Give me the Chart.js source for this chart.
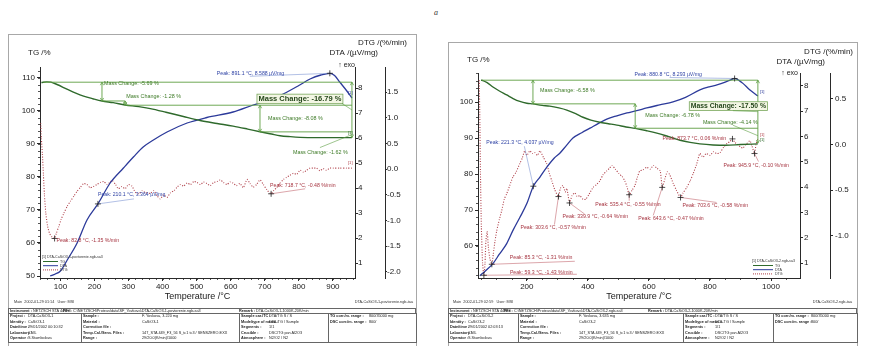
<!DOCTYPE html>
<html><head><meta charset="utf-8">
<script src="https://cdn.jsdelivr.net/npm/chart.js@4.4.1/dist/chart.umd.min.js"></script>
<style>
html,body{margin:0;padding:0;background:#fff}
body{width:870px;height:346px;position:relative;overflow:hidden;font-family:"Liberation Sans",Arial,sans-serif;color:#222}
.frame{position:absolute;border:1px solid #a8a8a8;box-sizing:border-box}
canvas{position:absolute}
.note{position:absolute;font-size:3.8px;line-height:4px;white-space:nowrap;color:#333}
.cell{position:absolute;border:0.8px solid #666;box-sizing:border-box;font-size:3.8px;line-height:5.5px;white-space:nowrap;overflow:hidden;color:#222}
.lab{position:absolute;font-weight:bold}
.val{position:absolute}
.letter{position:absolute;left:434px;top:8px;font:italic 8px "Liberation Serif",serif;color:#333}
</style></head><body>
<div class="letter">a</div>
<div class="frame" style="left:8px;top:34px;width:409px;height:320px"></div>
<div class="frame" style="left:448px;top:42px;width:410px;height:312px"></div>
<canvas id="c1" width="408" height="268" style="left:8px;top:34px"></canvas>
<canvas id="c2" width="409" height="260" style="left:448px;top:42px"></canvas>
<div class="note" style="left:14px;top:299.5px">Main&nbsp;&nbsp;2002-01-29 01:14&nbsp;&nbsp;&nbsp;User: MSI</div>
<div class="note" style="right:457px;top:299.5px">DTA-CaSiO3-1-povtorenie.ngb-taa</div>
<div class="note" style="left:453px;top:299.5px">Main&nbsp;&nbsp;2002-01-29 02:59&nbsp;&nbsp;&nbsp;User: MSI</div>
<div class="note" style="right:18px;top:299.5px">DTA-CaSiO3-2.ngb-taa</div>
<script>
const FONT = '"Liberation Sans", Arial, sans-serif';
const AXIS = '#2a2a2a', TXT = '#1a1a1a';
const C_TG = '#2f6a2c', C_DTA = '#2c3a9a', C_DTG = '#b0404a';
const C_LVL = '#5d9e42', C_MTXT = '#3d7a26', C_PEAKR = '#a63440', C_PEAKB = '#2f43a5';

// ================= Panel 1 (CaSiO3-1) =================
const tempTicks1 = [100, 200, 300, 400, 500, 600, 700, 800, 900];
const tgTicks1 = [50, 60, 70, 80, 90, 100, 110];
const dtaTicks1 = [1, 2, 3, 4, 5, 6, 7, 8];
const dtgTicks1 = [-2.0, -1.5, -1.0, -0.5, 0.0, 0.5, 1.0, 1.5];
// [temperature °C, TG %]
const tg1 = [[44,108.6],[60,108.8],[72,108.7],[90,108.0],[119,106.6],[145,105.4],[168,104.5],[195,103.7],[222,103.0],[255,102.5],[290,101.8],[330,101.3],[364,100.7],[410,99.6],[461,98.3],[510,97.1],[560,96.2],[607,95.4],[650,94.5],[686,93.7],[720,93.0],[745,92.5],[775,92.2],[804,92.0],[850,91.9],[900,91.9],[956,91.9]];
// [temperature °C, DTA µV/mg]
const dta1 = [[70,0.48],[85,0.56],[100,0.68],[120,1.12],[149,1.8],[178,2.72],[210.1,3.364],[246,4.2],[285,4.8],[315,5.25],[343,5.64],[373,5.92],[413,6.24],[472,6.6],[530,6.82],[607,7.04],[666,7.32],[720,7.55],[754,7.76],[800,8.1],[833,8.36],[865,8.52],[891.1,8.588],[905,8.5],[920,8.24],[940,7.9],[956,7.6]];
// [temperature °C, DTG %/min]
const dtg1 = [[42,0.9],[44,0.6],[47,0.3],[50,-0.1],[53,-0.5],[57,-0.85],[62,-1.1],[68,-1.25],[75,-1.32],[82.8,-1.35],[88,-1.25],[95,-1.12],[102,-0.98],[110,-0.86],[120,-0.72],[130,-0.62],[140,-0.52],[149,-0.43],[158,-0.36],[168,-0.28],[178,-0.3],[187,-0.36],[197,-0.34],[207,-0.3],[217,-0.26],[227,-0.24],[237,-0.3],[245,-0.26],[252,-0.22],[262,-0.3],[270,-0.38],[280,-0.34],[290,-0.38],[300,-0.3],[310,-0.33],[320,-0.45],[330,-0.48],[340,-0.42],[350,-0.46],[364,-0.47],[374,-0.42],[384,-0.52],[393,-0.58],[403,-0.5],[413,-0.55],[423,-0.46],[433,-0.42],[443,-0.35],[452,-0.3],[462,-0.33],[472,-0.27],[482,-0.3],[492,-0.24],[501,-0.26],[511,-0.3],[520,-0.25],[530,-0.28],[540,-0.32],[550,-0.26],[560,-0.24],[569,-0.21],[579,-0.26],[589,-0.3],[598,-0.25],[607,-0.27],[617,-0.32],[627,-0.28],[637,-0.36],[648,-0.2],[657,-0.28],[666,-0.35],[676,-0.3],[686,-0.21],[696,-0.3],[706,-0.4],[718.7,-0.48],[726,-0.42],[735,-0.36],[745,-0.27],[755,-0.2],[764,-0.16],[774,-0.12],[784,-0.08],[794,-0.1],[804,-0.02],[814,-0.06],[823,-0.02],[833,0.02],[843,0.02],[852,0.02],[862,-0.03],[872,0.01],[881,-0.02],[891,0.02],[901,0.02],[920,0.02],[940,0.02],[956,0.02]];
const massStart1 = 108.7;
const massTemp1 = [222, 290, 686, 956];
const massChange1 = [-5.69, -1.28, -8.08, -1.62];
const massLineEnd1 = [290, 956, 956, 956];
const massTotal1 = -16.79;
const dtaPeakT1 = [210.1, 891.1], dtaPeakV1 = [3.364, 8.588];
const dtgPeakT1 = [82.8, 718.7], dtgPeakV1 = [-1.35, -0.48];

// ================= Panel 2 (CaSiO3-2) =================
const tempTicks2 = [200, 400, 600, 800, 1000];
const tgTicks2 = [60, 70, 80, 90, 100];
const dtaTicks2 = [1, 2, 3, 4, 5, 6, 7, 8];
const dtgTicks2 = [-1.0, -0.5, 0.0, 0.5];
const tg2 = [[50,106.1],[56,106.0],[70,105.4],[89,104.2],[110,103.1],[134,102.0],[155,101.0],[177,100.2],[200,99.7],[220,99.5],[250,99.1],[275,98.9],[305,98.4],[331,97.8],[360,96.8],[384,95.8],[410,95.0],[439,94.4],[467,94.0],[495,93.6],[525,93.1],[555,92.7],[590,92.1],[626,91.4],[665,90.4],[702,89.4],[735,88.8],[767,88.4],[810,88.1],[852,88.0],[900,88.2],[957,88.4]];
const dta2 = [[46,0.5],[65,0.7],[89,0.98],[110,1.35],[134,1.77],[155,2.3],[177,2.8],[200,3.35],[221.3,4.037],[243,4.4],[265,4.78],[290,5.15],[308,5.34],[330,5.65],[351,5.94],[380,6.15],[407,6.33],[435,6.52],[462,6.69],[495,6.82],[528,6.93],[560,7.02],[593,7.13],[635,7.25],[679,7.37],[720,7.55],[767,7.84],[800,7.97],[823,8.04],[850,8.15],[868,8.24],[880.8,8.293],[895,8.22],[908,8.1],[930,7.85],[957,7.6]];
const dtg2 = [[44,0.7],[46,0.3],[48,-0.3],[51,-0.9],[55,-1.3],[59.3,-1.43],[63,-1.3],[66,-1.05],[70,-0.95],[74,-1.12],[79,-1.25],[85.3,-1.31],[90,-1.2],[96,-1.05],[101,-0.95],[110,-0.82],[118,-0.72],[126,-0.6],[134,-0.54],[144,-0.45],[154,-0.36],[165,-0.3],[177,-0.21],[185,-0.15],[193,-0.07],[200,-0.12],[210,-0.07],[218,-0.1],[226,-0.09],[235,-0.12],[243,-0.07],[254,-0.14],[265,-0.21],[274,-0.32],[282,-0.4],[292,-0.5],[303.6,-0.57],[310,-0.48],[318,-0.45],[326,-0.52],[331,-0.48],[339.9,-0.64],[348,-0.56],[357,-0.53],[365,-0.57],[374,-0.56],[384,-0.6],[393,-0.6],[403,-0.55],[417,-0.47],[428,-0.44],[439,-0.4],[450,-0.33],[462,-0.29],[471,-0.26],[479,-0.23],[490,-0.27],[502,-0.32],[512,-0.35],[521,-0.4],[528,-0.46],[535.4,-0.55],[545,-0.5],[554,-0.45],[562,-0.36],[570,-0.29],[580,-0.28],[593,-0.25],[604,-0.27],[615,-0.23],[626,-0.26],[637,-0.29],[643.6,-0.47],[652,-0.38],[660,-0.3],[668,-0.33],[680,-0.43],[690,-0.5],[703.6,-0.58],[712,-0.53],[724,-0.47],[735,-0.4],[745,-0.32],[756,-0.22],[767,-0.1],[777,-0.14],[788,-0.1],[800,-0.12],[812,-0.08],[822,-0.1],[833,-0.09],[845,-0.03],[856,0.01],[865,0.03],[873.7,0.06],[882,0.02],[892,0.0],[900,-0.03],[908,-0.04],[918,0.0],[931,0.04],[938,-0.02],[945.9,-0.1],[951,0.0],[957,0.06]];
const massStart2 = 106.1;
const massTemp2 = [220, 555, 957];
const massChange2 = [-6.58, -6.78, -4.14];
const massLineEnd2 = [555, 957, 957];
const massTotal2 = -17.50;
const dtaPeakT2 = [221.3, 880.8], dtaPeakV2 = [4.037, 8.293];
const dtgPeakT2 = [59.3, 85.3, 303.6, 339.9, 535.4, 643.6, 703.6, 873.7, 945.9];
const dtgPeakV2 = [-1.43, -1.31, -0.57, -0.64, -0.55, -0.47, -0.58, 0.06, -0.10];

// ================= Info tables =================
const info1 = {
  instrument: 'NETZSCH STA 449F3', file: 'C:\\NETZSCH\\Proteus\\data\\SF_Yovkova\\DTA-CaSiO3-1-povtorenie.ngb-sa3', remark: 'DTA-CaSiO3-1-1000K-20K/min',
  cols: [
    [['Project :','DTA-CaSiO3-1'],['Identity :','CaSiO3-1'],['Date/time :','29/01/2002 00:10:32'],['Laboratory :','CNIL'],['Operator :','S.Stambolova']],
    [['Sample :','F. Yovkova, 3.220 mg'],['Material :','CaSiO3-1'],['Correction file :',''],['Temp.Cal./Sens. Files :','147_STA 449_F3_56 S_tc1 tc3 / SENSZERO.EXX'],['Range :','29/20.0(K/min)/1000']],
    [['Sample car./TC :','DTA/TG S / S'],['Mode/type of meas. :','DTA-TG / Sample'],['Segments :','1/1'],['Crucible :','DSC/TG pan Al2O3'],['Atmosphere :','N2/O2 / N2']],
    [['TG corr./m. range :','800/35000 mg'],['DSC corr./m. range :','800/']]
  ]
};
const info2 = {
  instrument: 'NETZSCH STA 449F3', file: 'C:\\NETZSCH\\Proteus\\data\\SF_Yovkova\\DTA-CaSiO3-2.ngb-sa3', remark: 'DTA-CaSiO3-2-1000K-20K/min',
  cols: [
    [['Project :','DTA-CaSiO3-2'],['Identity :','CaSiO3-2'],['Date/time :','29/01/2002 02:03:13'],['Laboratory :','CNIL'],['Operator :','S.Stambolova']],
    [['Sample :','F. Yovkova, 3.635 mg'],['Material :','CaSiO3-2'],['Correction file :',''],['Temp.Cal./Sens. Files :','147_STA 449_F3_56 S_tc1 tc3 / SENSZERO.EXX'],['Range :','29/20.0(K/min)/1000']],
    [['Sample car./TC :','DTA/TG S / S'],['Mode/type of meas. :','DTA-TG / Sample'],['Segments :','1/1'],['Crucible :','DSC/TG pan Al2O3'],['Atmosphere :','N2/O2 / N2']],
    [['TG corr./m. range :','800/35000 mg'],['DSC corr./m. range :','800/']]
  ]
};

// ---------- layout (positions / sizes only) ----------
const L1 = {
  padTop: 33, xAxisH: 24, wTG: 32, wDTA: 30, wDTG: 31,
  xMin: 40, xMax: 965, tgMin: 49.4, tgMax: 113.3, dtaMin: 0.4, dtaMax: 8.84, dtgMin: -2.12, dtgMax: 1.99,
  dtaPad: 0, dtgPad: 0, dtgTick: 2, xMinor: 20, tgMinor: 2,
  hdrTG: [-12, -14], hdrDTA: [23, -14], hdrDTG: [52, -24], exo: [0, -2],
  dtaPeak: [[0, -9, 36, -5], [-113, 0, -80, 3]],
  dtgPeak: [[2, 2, null, null], [-1, -8, 34, -5]],
  massBase: 50,
  massLbl: [[2, -8], [1, -7], [8, 0], [-59, 18]],
  massLeader: {3: [27, -5]},
  total: {dx: -52, dy: -11, size: 7.5, leader: [42, 4.5]},
  legend: {x: 2, y: -21, len: 15, name: '[1] DTA-CaSiO3-1-povtorenie.ngb-sa3'},
  tag: [-4, -5]
};
const L2 = {
  padTop: 31, xAxisH: 24, wTG: 30, wDTA: 30, wDTG: 27,
  xMin: 40, xMax: 1095, tgMin: 51.1, tgMax: 108.1, dtaMin: 0.41, dtaMax: 8.51, dtgMin: -1.46, dtgMax: 0.78,
  dtaPad: 1, dtgPad: 2, dtgTick: 3, xMinor: 50, tgMinor: 2,
  hdrTG: [-11, -13], hdrDTA: [25, -11], hdrDTG: [53, -21], exo: [-2, 0],
  dtaPeak: [[-47, -44, -9, -40], [-100, -4, -65, -1]],
  dtgPeak: [[26, -3, 93, -1], [18, -7, 83, -3], [-38, 31, -4, 28], [-7, 14, 15, 11], [-34, 10, 0, 6], [-24, 31, -9, 28], [2, 8, 36, 5], [-70, 0, null, null], [-31, 12, 4, 8]],
  massBase: 52,
  massLbl: [[7, -2], [10, -1], [-55, -13.5]],
  massLeader: {2: [30, 3]},
  total: {dx: -29.5, dy: -5.5, size: 6.8, leader: [4.5, 4.5]},
  legend: {x: -48, y: -17, len: 20, name: '[1] DTA-CaSiO3-2.ngb-sa3'},
  tag: [2, -4]
};

function annotPlugin(D, L) {
  return {
    id: 'netzsch' + D.key,
    afterDraw(chart) {
      const {ctx, chartArea: ca, scales: s} = chart;
      const X = v => s.x.getPixelForValue(v);
      const YT = v => s.yTG.getPixelForValue(v);
      const YA = v => s.yDTA.getPixelForValue(v);
      const YG = v => s.yDTG.getPixelForValue(v);
      const text = (str, x, y, size, color, align, weight) => {
        ctx.font = (weight || 'normal') + ' ' + size + 'px ' + FONT;
        ctx.fillStyle = color; ctx.textAlign = align || 'left'; ctx.textBaseline = 'middle';
        ctx.fillText(str, x, y);
      };
      const line = (x1, y1, x2, y2, color, w, dash) => {
        ctx.beginPath(); ctx.setLineDash(dash || []); ctx.strokeStyle = color; ctx.lineWidth = w || 0.8;
        ctx.moveTo(x1, y1); ctx.lineTo(x2, y2); ctx.stroke(); ctx.setLineDash([]);
      };
      const cross = (x, y) => { line(x - 3, y, x + 3, y, '#222', 0.8); line(x, y - 3, x, y + 3, '#222', 0.8); };
      const vArrow = (x, y1, y2, color) => {
        line(x, y1, x, y2, color, 0.9);
        const d = y2 > y1 ? 1 : -1;
        line(x - 1.6, y2 - 3 * d, x, y2, color, 0.8); line(x + 1.6, y2 - 3 * d, x, y2, color, 0.8);
        line(x - 1.6, y1 + 3 * d, x, y1, color, 0.8); line(x + 1.6, y1 + 3 * d, x, y1, color, 0.8);
      };
      ctx.save();
      // minor ticks
      for (let i = Math.ceil(s.x.min / L.xMinor); i * L.xMinor <= s.x.max; i++) {
        const x = Math.round(X(i * L.xMinor)) + 0.5; line(x, ca.bottom, x, ca.bottom + 2, AXIS, 0.8);
      }
      for (let i = Math.ceil(s.yTG.min / L.tgMinor); i * L.tgMinor <= s.yTG.max; i++) {
        const y = Math.round(YT(i * L.tgMinor)) + 0.5; line(ca.left - 2, y, ca.left, y, AXIS, 0.8);
      }
      // headers
      text('TG /%', ca.left + L.hdrTG[0], ca.top + L.hdrTG[1], 8, TXT);
      text('DTA /(µV/mg)', ca.right + L.hdrDTA[0], ca.top + L.hdrDTA[1], 8, TXT, 'right');
      text('DTG /(%/min)', ca.right + L.hdrDTG[0], ca.top + L.hdrDTG[1], 8, TXT, 'right');
      text('↑ exo', ca.right + L.exo[0], ca.top + L.exo[1], 7, TXT, 'right');
      // mass changes
      const levels = [D.massStart];
      D.massChange.forEach((c, i) => levels.push(levels[i] + c));
      const tEnd = D.massTemp[D.massTemp.length - 1];
      line(X(L.massBase), YT(D.massStart), X(tEnd), YT(D.massStart), C_LVL, 0.9);
      D.massTemp.forEach((t, i) => {
        const ax = X(t), y1 = YT(levels[i]), y2 = YT(levels[i + 1]);
        if (D.massLineEnd[i] > t) line(ax, y2, X(D.massLineEnd[i]), y2, C_LVL, 0.9);
        if (i < D.massTemp.length - 1) vArrow(ax, y1, y2, C_LVL);
        const mid = (y1 + y2) / 2;
        const lx = ax + L.massLbl[i][0], ly = mid + L.massLbl[i][1];
        text('Mass Change: ' + D.massChange[i].toFixed(2) + ' %', lx, ly, 5.4, C_MTXT);
        if (L.massLeader[i]) line(lx + L.massLeader[i][0], ly + L.massLeader[i][1], ax, mid, C_LVL, 0.6);
      });
      // total
      const ax = X(tEnd), yTop = YT(D.massStart), yBot = YT(D.massStart + D.massTotal);
      vArrow(ax, yTop, yBot, C_LVL);
      const tmid = (yTop + yBot) / 2;
      const bx = ax + L.total.dx, by = tmid + L.total.dy;
      ctx.font = 'bold ' + L.total.size + 'px ' + FONT;
      const tstr = 'Mass Change: ' + D.massTotal.toFixed(2) + ' %';
      const bw = ctx.measureText(tstr).width + 3, bh = L.total.size + 2;
      ctx.fillStyle = '#f3f6e4'; ctx.fillRect(bx - bw / 2, by - bh / 2, bw, bh);
      ctx.strokeStyle = '#7aa85e'; ctx.lineWidth = 0.8; ctx.strokeRect(bx - bw / 2, by - bh / 2, bw, bh);
      text(tstr, bx, by + 0.3, L.total.size, '#24461a', 'center', 'bold');
      line(bx + L.total.leader[0], by + L.total.leader[1], ax, tmid, C_LVL, 0.6);
      // peaks
      const drawPeaks = (T, V, Y, lay, color, leadColor, fmt) => {
        T.forEach((t, i) => {
          const mx = X(t), my = Y(V[i]); const o = lay[i];
          if (o[2] !== null) line(mx, my, mx + o[2], my + o[3], leadColor, 0.6);
          cross(mx, my);
          text(fmt(t, V[i]), mx + o[0], my + o[1], 5.2, color);
        });
      };
      drawPeaks(D.dtaPeakT, D.dtaPeakV, YA, L.dtaPeak, C_PEAKB, '#7d95d4', (t, v) => 'Peak: ' + t.toFixed(1) + ' °C, ' + v.toFixed(3) + ' µV/mg');
      drawPeaks(D.dtgPeakT, D.dtgPeakV, YG, L.dtgPeak, C_PEAKR, '#c46a72', (t, v) => 'Peak: ' + t.toFixed(1) + ' °C, ' + v.toFixed(2) + ' %/min');
      // curve tags
      [[D.tg, YT, C_TG], [D.dta, YA, C_DTA], [D.dtg, YG, C_DTG]].forEach(([arr, Y, c]) => {
        const p = arr[arr.length - 1];
        text('[1]', X(p[0]) + L.tag[0], Y(p[1]) + L.tag[1], 4.2, c);
      });
      // legend
      const lgx = (L.legend.x >= 0 ? ca.left : ca.right) + L.legend.x, lgy = ca.bottom + L.legend.y;
      text(L.legend.name, lgx, lgy, 3.6, '#333');
      [['TG', C_TG, []], ['DTA', C_DTA, []], ['DTG', C_DTG, [1, 1]]].forEach(([n, c, d], i) => {
        const yy = lgy + 4.5 + i * 4.2;
        line(lgx + 1, yy, lgx + 1 + L.legend.len, yy, c, 1, d);
        text(n, lgx + 3 + L.legend.len, yy, 3.6, '#333');
      });
      ctx.restore();
    }
  };
}

function buildChart(canvasId, D, L) {
  const tickFont = {size: 8, family: FONT};
  const yAxis = (pos, min, max, ticks, width, fmt, pad, tl) => ({
    position: pos, min, max,
    afterBuildTicks: sc => { sc.ticks = ticks.map(v => ({value: v})); },
    afterFit: sc => { sc.width = width; },
    grid: {drawOnChartArea: false, drawTicks: true, tickLength: tl, tickColor: AXIS, tickWidth: 1},
    border: {display: true, color: AXIS, width: 1},
    ticks: {font: tickFont, color: TXT, padding: pad, autoSkip: false, callback: fmt}
  });
  new Chart(document.getElementById(canvasId), {
    type: 'line',
    data: {datasets: [
      {label: 'TG', data: D.tg.map(p => ({x: p[0], y: p[1]})), yAxisID: 'yTG', borderColor: C_TG, borderWidth: 1.4, pointRadius: 0, cubicInterpolationMode: 'monotone', fill: false},
      {label: 'DTA', data: D.dta.map(p => ({x: p[0], y: p[1]})), yAxisID: 'yDTA', borderColor: C_DTA, borderWidth: 1.3, pointRadius: 0, cubicInterpolationMode: 'monotone', fill: false},
      {label: 'DTG', data: D.dtg.map(p => ({x: p[0], y: p[1]})), yAxisID: 'yDTG', borderColor: C_DTG, borderWidth: 1.1, borderDash: [1, 1.6], pointRadius: 0, tension: 0.2, fill: false}
    ]},
    options: {
      responsive: false, animation: false, devicePixelRatio: 1,
      layout: {padding: {top: L.padTop, left: 0, right: 0, bottom: 0}},
      plugins: {legend: {display: false}, tooltip: {enabled: false}},
      scales: {
        x: {type: 'linear', position: 'bottom', min: L.xMin, max: L.xMax,
          afterBuildTicks: sc => { sc.ticks = D.xTicks.map(v => ({value: v})); },
          afterFit: sc => { sc.height = L.xAxisH; },
          grid: {drawOnChartArea: false, drawTicks: true, tickLength: 3, tickColor: AXIS, tickWidth: 1},
          border: {display: true, color: AXIS, width: 1},
          ticks: {font: tickFont, color: TXT, padding: 1, maxRotation: 0, autoSkip: false, callback: v => String(v)},
          title: {display: true, text: 'Temperature /°C', color: TXT, font: {size: 9, family: FONT}, padding: {top: 0, bottom: 0}}
        },
        yTG: yAxis('left', L.tgMin, L.tgMax, D.tgTicks, L.wTG, v => String(v), 2, 3),
        yDTA: yAxis('right', L.dtaMin, L.dtaMax, D.dtaTicks, L.wDTA, v => String(v), L.dtaPad, 3),
        yDTG: yAxis('right', L.dtgMin, L.dtgMax, D.dtgTicks, L.wDTG, v => v.toFixed(1), L.dtgPad, L.dtgTick)
      }
    },
    plugins: [annotPlugin(D, L)]
  });
}

function buildInfo(info, cols, top, fileX, remarkX, valX) {
  const mk = (cls, css, html) => { const d = document.createElement('div'); d.className = cls; Object.assign(d.style, css); d.innerHTML = html || ''; document.body.appendChild(d); return d; };
  const esc = s => s.replace(/&/g, '&amp;').replace(/</g, '&lt;');
  mk('cell', {left: cols[0] + 'px', top: top + 'px', width: (cols[4] - cols[0]) + 'px', height: '6.2px', lineHeight: '5.4px'},
    '<div class="lab" style="left:1px;top:0">Instrument :</div><div class="val" style="left:24px;top:0">' + esc(info.instrument) + '</div>' +
    '<div class="lab" style="left:' + fileX + 'px;top:0">File :</div><div class="val" style="left:' + (fileX + 10) + 'px;top:0">' + esc(info.file) + '</div>' +
    '<div class="lab" style="left:' + remarkX + 'px;top:0">Remark :</div><div class="val" style="left:' + (remarkX + 17) + 'px;top:0">' + esc(info.remark) + '</div>');
  info.cols.forEach((rows, c) => {
    let html = '';
    rows.forEach((r, i) => {
      html += '<div class="lab" style="left:1px;top:' + (i * 5.5) + 'px">' + esc(r[0]) + '</div>';
      html += '<div class="val" style="left:' + valX[c] + 'px;top:' + (i * 5.5) + 'px">' + esc(r[1]) + '</div>';
    });
    mk('cell', {left: cols[c] + 'px', top: (top + 5.6) + 'px', width: (cols[c + 1] - cols[c] + 0.8) + 'px', height: '30px'}, html);
  });
}

buildChart('c1', {key: '1', tg: tg1, dta: dta1, dtg: dtg1, xTicks: tempTicks1, tgTicks: tgTicks1, dtaTicks: dtaTicks1, dtgTicks: dtgTicks1,
  massStart: massStart1, massTemp: massTemp1, massChange: massChange1, massLineEnd: massLineEnd1, massTotal: massTotal1,
  dtaPeakT: dtaPeakT1, dtaPeakV: dtaPeakV1, dtgPeakT: dtgPeakT1, dtgPeakV: dtgPeakV1}, L1);
buildChart('c2', {key: '2', tg: tg2, dta: dta2, dtg: dtg2, xTicks: tempTicks2, tgTicks: tgTicks2, dtaTicks: dtaTicks2, dtgTicks: dtgTicks2,
  massStart: massStart2, massTemp: massTemp2, massChange: massChange2, massLineEnd: massLineEnd2, massTotal: massTotal2,
  dtaPeakT: dtaPeakT2, dtaPeakV: dtaPeakV2, dtgPeakT: dtgPeakT2, dtgPeakV: dtgPeakV2}, L2);
buildInfo(info1, [8, 81, 239, 328, 416], 307.5, 54, 230, [19, 60, 29, 40]);
buildInfo(info2, [448, 518, 683, 773, 857], 307.5, 55, 199, [19, 60, 31, 37]);
</script>
</body></html>
